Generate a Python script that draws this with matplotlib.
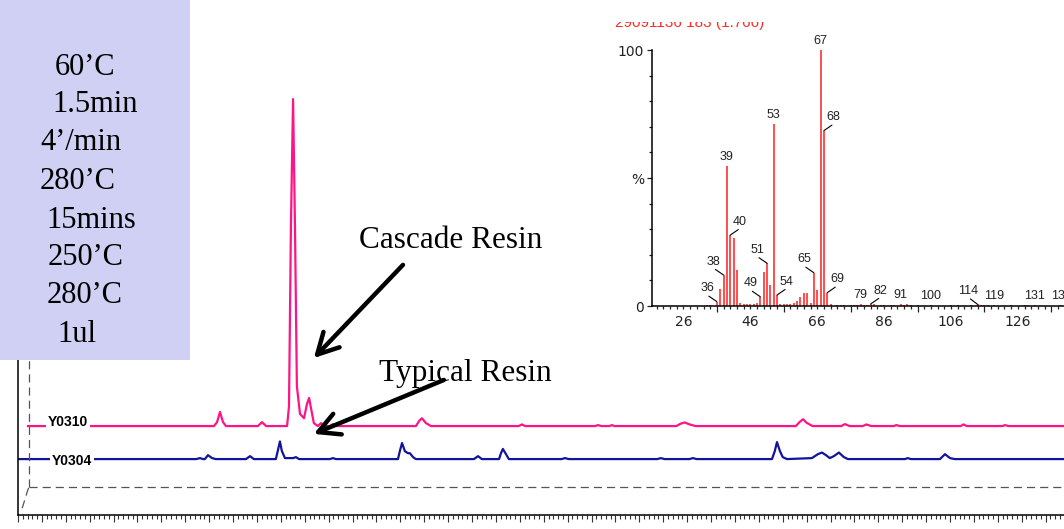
import matplotlib
matplotlib.use("Agg")
import matplotlib.pyplot as plt
from matplotlib.patches import Rectangle
from matplotlib.ticker import MultipleLocator, FuncFormatter, FixedLocator

# ---- chromatogram traces: retention time (min) vs intensity (% of largest peak)
y0310_time = [5.42, 13.20, 13.33, 13.45, 13.58, 13.70, 15.04, 15.21, 15.38,
              16.26, 16.34, 16.42, 16.51, 16.59, 16.67, 16.80, 16.97, 17.09, 17.18,
              17.26, 17.38, 17.55, 17.68, 17.85, 18.05, 18.18, 18.30,
              21.65, 21.78, 21.90, 22.07, 22.28, 25.95, 26.09, 26.22,
              29.15, 29.27, 29.40, 29.75, 29.85, 29.95,
              32.55, 32.72, 32.90, 33.10, 33.35, 37.55, 37.70, 37.85, 38.00, 38.25,
              39.45, 39.60, 39.80, 40.35, 40.50, 40.70, 41.65, 41.75, 41.90,
              44.45, 44.57, 44.70, 46.20, 46.30, 46.45, 48.80]
y0310_int = [0, 0, 1.2, 4.3, 1.2, 0, 0, 1.2, 0,
             0, 6.1, 61, 100, 61, 12.2, 3.7, 2.4, 6.7, 8.6,
             5.5, 0.9, 0, 0.9, 0, 0, 0.6, 0,
             0, 1.5, 2.4, 0.9, 0, 0, 0.5, 0,
             0, 0.3, 0, 0, 0.3, 0,
             0, 0.7, 1.1, 0.5, 0, 0, 1.2, 2.1, 1.0, 0,
             0, 0.6, 0, 0, 0.5, 0, 0, 0.3, 0,
             0, 0.5, 0, 0, 0.3, 0, 0]

y0304_time = [5.00, 12.45, 12.62, 12.74, 12.82, 12.95, 13.12, 13.28,
              14.54, 14.71, 14.87, 15.79, 15.87, 15.96, 16.04, 16.17, 16.51, 16.63, 16.76,
              18.05, 18.18, 18.30, 20.90, 20.98, 21.07, 21.19, 21.32, 21.40, 21.53, 21.65,
              24.08, 24.25, 24.41, 25.13, 25.21, 25.29, 25.42, 25.54,
              27.75, 27.89, 28.05, 31.75, 31.90, 32.05, 33.10, 33.24, 33.40,
              36.55, 36.67, 36.76, 36.88, 37.00, 37.18,
              38.22, 38.47, 38.64, 38.81, 38.97, 39.14, 39.35, 39.56, 39.73,
              42.11, 42.24, 42.36, 43.58, 43.79, 44.00, 44.20, 48.80]
y0304_int = [0, 0, 0.3, 0, 0, 1.2, 0.3, 0,
             0, 0.9, 0, 0, 2.5, 5.4, 2.5, 0.3, 0.3, 0.6, 0,
             0, 0.3, 0, 0, 2.5, 4.9, 2.4, 1.8, 1.8, 0.6, 0,
             0, 0.9, 0, 0, 1.8, 3.1, 1.5, 0,
             0, 0.3, 0, 0, 0.3, 0, 0, 0.3, 0,
             0, 2.5, 5.2, 2.5, 0.6, 0,
             0.3, 1.5, 2.0, 1.2, 0.3, 0.9, 2.0, 0.6, 0,
             0, 0.3, 0, 0, 1.5, 0.3, 0, 0]

sample_names = ["Y0310", "Y0304"]

# ---- mass spectrum of the cascade resin peak
ms_title = "29091136 183 (1.766)"
ms_mz = [33, 34, 36, 37, 38, 39, 40, 41, 42, 43, 44, 45, 46, 47, 48, 49, 50, 51, 52, 53,
         54, 55, 56, 57, 58, 59, 60, 61, 62, 63, 64, 65, 66, 67, 68, 69, 70, 72, 73, 74,
         76, 77, 78, 79, 80, 81, 82, 83, 85, 86, 88, 89, 91, 92, 93, 94, 96, 100, 106,
         108, 112, 114, 115, 116, 117, 119, 124, 128, 129, 131, 139]
ms_int = [0.5, 0.5, 1.7, 6.5, 12.1, 54.8, 27.7, 26.4, 14.1, 1.3, 0.6, 0.6, 0.6, 0.6, 1.0,
          3.6, 13.4, 16.7, 8.3, 71.1, 4.3, 0.6, 0.6, 0.6, 0.8, 1.0, 1.8, 3.6, 4.9, 5.2,
          1.3, 13.0, 6.3, 100, 68.5, 5.2, 0.8, 0.5, 0.5, 0.5, 0.5, 0.5, 0.5, 0.6, 0.5,
          0.5, 0.8, 0.6, 0.5, 0.5, 0.5, 0.5, 0.6, 0.5, 0.6, 0.5, 0.5, 0.5, 0.5, 0.5,
          0.5, 0.6, 0.5, 0.5, 0.5, 0.5, 0.5, 0.5, 0.5, 0.5, 0.5]
ms_labels = [36, 38, 39, 40, 49, 51, 53, 54, 65, 67, 68, 69, 79, 82, 91, 100, 114, 119, 131, 139]
ms_xlabels = [26, 46, 66, 86, 106, 126]

oven_program = ["60’C", "1.5min", "4’/min", "280’C", "15mins", "250’C", "280’C", "1ul"]

W, H = 1064, 529
pink = "#ff1485"
navy = "#14149a"
serif = "Liberation Serif"
sans = "Liberation Sans"

fig = plt.figure(figsize=(W / 100, H / 100), dpi=100)

# ---- main chromatogram
ax = fig.add_axes([18 / W, (H - 515) / H, (W - 18) / W, 515 / H])
ax.set_xlim(5.0, 48.77)
ax.set_ylim(0, 157.5)
for s in ["top", "right"]:
    ax.spines[s].set_visible(False)
for s in ["left", "bottom"]:
    ax.spines[s].set_linewidth(1.1)
ax.set_yticks([])
ax.xaxis.set_major_locator(MultipleLocator(1))
ax.xaxis.set_minor_locator(MultipleLocator(0.2))
ax.xaxis.set_major_formatter(FuncFormatter(
    lambda v, p: "%d" % round(v) if round(v) % 2 == 0 else ""))
ax.tick_params(axis="x", which="major", length=5, width=0.8, color="#333333",
               pad=4.6, labelsize=9, labelcolor="#3a3ad0")
ax.tick_params(axis="x", which="minor", length=2.6, width=0.8, color="#333333")

offsets = [27.2, 17.1]
ax.plot(y0310_time, [v + offsets[0] for v in y0310_int], color=pink, lw=1.6, zorder=2)
ax.plot(y0304_time, [v + offsets[1] for v in y0304_int], color=navy, lw=1.6, zorder=2)
ax.text(6.26, offsets[0], sample_names[0], fontsize=10, fontweight="bold", family=sans,
        va="baseline", ha="left", zorder=3,
        bbox=dict(facecolor="white", edgecolor="none", pad=1.2))
ax.text(6.42, offsets[1], sample_names[1], fontsize=10, fontweight="bold", family=sans,
        va="center_baseline", ha="left", zorder=3,
        bbox=dict(facecolor="white", edgecolor="none", pad=1.2))

# dashed baseline frame
dash = dict(color="#555555", lw=0.9, dashes=(6.5, 4))
ax.plot([5.46, 48.77], [8.56, 8.56], **dash)
ax.plot([5.46, 5.46], [8.56, 157.5], **dash)
ax.plot([5.44, 5.125], [8.3, 0.9], **dash)

# annotations
arrow = dict(arrowstyle="->,head_length=0.75,head_width=0.4", lw=3.2, color="black",
             mutation_scale=20, shrinkA=0, shrinkB=0)
ax.annotate("", xy=(17.38, 48.0), xytext=(21.11, 76.5), arrowprops=arrow, zorder=4)
ax.annotate("", xy=(17.38, 24.8), xytext=(22.82, 41.3), arrowprops=arrow, zorder=4)
ax.text(451 / W, 1 - 241 / H, "Cascade Resin", transform=fig.transFigure, family=serif,
        fontsize=22.5, ha="center", va="center", zorder=1)
ax.text(465 / W, 1 - 374 / H, "Typical Resin", transform=fig.transFigure, family=serif,
        fontsize=22.5, ha="center", va="center", zorder=1)

# ---- mass spectrum inset
ins = fig.add_axes([652 / W, (H - 306) / H, (W - 652) / W, 256 / H])
ins.set_facecolor("none")
ins.set_xlim(16.6, 139.8)
ins.set_ylim(0, 100)
for s in ["top", "right"]:
    ins.spines[s].set_visible(False)
for s in ["left", "bottom"]:
    ins.spines[s].set_linewidth(1.1)
ins.vlines(ms_mz, 0, ms_int, color="#ff3030", lw=1.2)

ins.xaxis.set_major_locator(FixedLocator(list(range(36, 140, 20))))
ins.xaxis.set_major_formatter(FuncFormatter(lambda v, p: ""))
ins.set_xticks(list(range(18, 140, 2)), minor=True)
ins.set_xticklabels([str(v) if v in ms_xlabels else "" for v in range(18, 140, 2)], minor=True)
ins.tick_params(axis="x", which="major", length=4.3, width=0.9, color="#222222")
ins.tick_params(axis="x", which="minor", length=2.2, width=0.9, color="#222222",
                pad=4.5, labelsize=10, labelcolor="#222222")
ins.yaxis.set_major_locator(FixedLocator([0, 50, 100]))
ins.yaxis.set_major_formatter(FuncFormatter(lambda v, p: {0: "0", 50: "%", 100: "100"}[round(v)]))
ins.yaxis.set_minor_locator(MultipleLocator(10))
ins.tick_params(axis="y", which="major", length=3.6, width=0.9, color="#222222",
                pad=2, labelsize=10, labelcolor="#222222")
ins.tick_params(axis="y", which="minor", length=2.0, width=0.9, color="#222222")

left_side = [36, 38, 49, 51, 65, 114]
right_side = [40, 54, 68, 69, 82]
for m in ms_labels:
    h = ms_int[ms_mz.index(m)]
    if m in left_side or m in right_side:
        sgn = -1 if m in left_side else 1
        ins.annotate(str(m), xy=(m, h), xytext=(sgn * 7, 9.6), textcoords="offset points",
                     ha="center", va="center", fontsize=9, family=sans, color="#222222",
                     annotation_clip=False,
                     arrowprops=dict(arrowstyle="-", color="black", lw=0.8, patchA=None,
                                     shrinkA=0, shrinkB=0,
                                     relpos=(0.62, -0.15) if sgn < 0 else (0.38, -0.15)))
    else:
        ins.annotate(str(m), xy=(m, h), xytext=(0, 2.2), textcoords="offset points",
                     ha="center", va="bottom", fontsize=9, family=sans, color="#222222",
                     annotation_clip=False)

# spectrum header, top half hidden as in the original screen grab
fig.text(615 / W, 1 - 26.5 / H, ms_title, color="#ff2a2a", fontsize=11, family=sans,
         ha="left", va="baseline", zorder=3)
fig.add_artist(Rectangle((600 / W, 1 - 21.5 / H), 190 / W, 21.5 / H,
                         transform=fig.transFigure, facecolor="white", edgecolor="none",
                         zorder=4))

# ---- oven program box
fig.add_artist(Rectangle((0, 1 - 360 / H), 190 / W, 360 / H, transform=fig.transFigure,
                         facecolor="#d0d0f4", edgecolor="none", zorder=6))
box_x = [55, 52, 40, 40, 46, 48, 47, 57]
box_y = [67.7, 105, 142.7, 181.7, 220, 257.7, 295.7, 334.3]
for txt, x, y in zip(oven_program, box_x, box_y):
    fig.text(x / W, 1 - y / H, txt, family=serif, fontsize=22, ha="left", va="center",
             zorder=7)

fig.savefig("out.png", dpi=100)
